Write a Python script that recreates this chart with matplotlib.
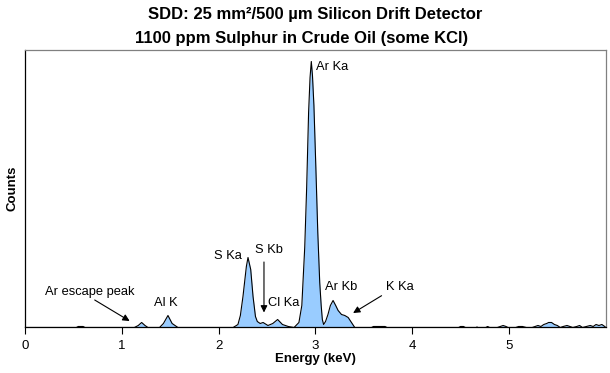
import numpy as np
import matplotlib.pyplot as plt

plt.rcParams['font.family'] = ['Liberation Sans', 'DejaVu Sans']

# spectrum, energy in keV, counts (arbitrary units)
low_kev = [0.00, 0.53, 0.55, 0.58, 0.60, 0.62,
           1.13, 1.17, 1.205, 1.24, 1.27,
           1.39, 1.43, 1.477, 1.52, 1.58, 2.14]
low_counts = [0, 0, 10, 10, 10, 0,
              0, 20, 50, 20, 0,
              0, 40, 120, 40, 0, 0]

sulphur_kev = [2.15, 2.184, 2.20, 2.225, 2.252, 2.287, 2.304, 2.332, 2.356,
               2.381, 2.40, 2.43, 2.46, 2.51, 2.56, 2.61, 2.66, 2.72, 2.78]
sulphur_counts = [0, 20, 30, 120, 310, 610, 700, 580, 310,
                  110, 60, 40, 50, 20, 40, 80, 30, 10, 0]

argon_kev = [2.80, 2.83, 2.86, 2.89, 2.91, 2.93, 2.945, 2.958, 2.97, 2.985,
             3.005, 3.025, 3.045, 3.06, 3.072, 3.085, 3.105, 3.13, 3.155,
             3.183, 3.21, 3.235, 3.27, 3.304, 3.339, 3.373, 3.407]
argon_counts = [20, 50, 220, 800, 1400, 2150, 2500, 2660, 2520, 2220,
                1600, 950, 450, 220, 80, 30, 60, 130, 220,
                270, 220, 170, 130, 120, 100, 50, 0]

high_kev = [3.58, 3.60, 3.66, 3.72, 3.74,
            4.48, 4.50, 4.53, 4.55, 4.66, 4.67, 4.68, 4.76, 4.78, 4.80,
            4.88, 4.91, 4.94, 4.97, 4.99, 5.07, 5.10, 5.14, 5.18, 5.24,
            5.27, 5.30, 5.33, 5.36, 5.39, 5.41, 5.44, 5.47, 5.50, 5.53,
            5.56, 5.60, 5.63, 5.66, 5.70, 5.73, 5.76, 5.80, 5.84, 5.87,
            5.90, 5.93, 5.96, 5.99, 6.00]
high_counts = [0, 10, 10, 10, 0,
               0, 10, 10, 0, 0, 5, 0, 0, 10, 0,
               0, 10, 20, 10, 0, 0, 10, 10, 0, 0,
               10, 20, 10, 30, 40, 50, 50, 30, 20, 0,
               10, 20, 10, 0, 10, 20, 0, 10, 20, 10,
               30, 20, 30, 10, 0]

tick_kev = [0, 1, 2, 3, 4, 5]

# peak labels: text, x, y, alignment
peak_labels = [
    ('Ar Ka', 3.004, 2600, 'left'),
    ('S Ka', 2.24, 715, 'right'),
    ('S Kb', 2.523, 770, 'center'),
    ('Cl Ka', 2.508, 245, 'left'),
    ('Al K', 1.458, 245, 'center'),
    ('Ar escape peak', 0.667, 355, 'center'),
    ('Ar Kb', 3.097, 405, 'left'),
    ('K Ka', 3.728, 405, 'left'),
]
# arrows: (from x, from y) -> (to x, to y)
arrows = [
    ((2.469, 655), (2.469, 150)),
    ((0.72, 275), (1.081, 65)),
    ((3.684, 318), (3.39, 145)),
]

energy = np.array(low_kev + sulphur_kev + argon_kev + high_kev)
counts = np.array(low_counts + sulphur_counts + argon_counts + high_counts)

fig = plt.figure(figsize=(6.10, 3.73), dpi=100)
ax = fig.add_axes([0.041, 0.122, 0.952, 0.744])

ax.fill_between(energy, counts, color='#99ccff', lw=0)
ax.plot(energy, counts, color='black', lw=0.8)

ax.set_xlim(0, 6.0)
ax.set_ylim(0, 2775)
ax.set_xticks(tick_kev)
ax.set_xticklabels([str(t) for t in tick_kev], fontsize=9.5)
ax.set_yticks([])
ax.tick_params(axis='x', direction='out', length=5, width=0.8, pad=4)

for side in ['top', 'right']:
    ax.spines[side].set_color('#808080')
for side in ['left', 'bottom']:
    ax.spines[side].set_color('black')
for s in ax.spines.values():
    s.set_linewidth(0.9)

ax.set_xlabel('Energy (keV)', fontsize=9.5, fontweight='bold', labelpad=1)
ax.set_ylabel('Counts', fontsize=9.5, fontweight='bold', labelpad=5)

for txt, x, y, ha in peak_labels:
    ax.text(x, y, txt, ha=ha, va='center', fontsize=9.3)

for (x0, y0), (x1, y1) in arrows:
    ax.annotate('', xy=(x1, y1), xytext=(x0, y0),
                arrowprops=dict(arrowstyle='-|>', color='black', lw=0.8,
                                mutation_scale=10, shrinkA=0, shrinkB=0))

# title; the first word is white in the original
fig.text(0.243, 0.96, 'Super', color='white', ha='right', va='center',
         fontsize=12, fontweight='bold')
fig.text(0.243, 0.96, 'SDD: 25 mm\u00b2/500 \u00b5m Silicon Drift Detector',
         ha='left', va='center', fontsize=12, fontweight='bold')
fig.text(0.494, 0.898, '1100 ppm Sulphur in Crude Oil (some KCl)',
         ha='center', va='center', fontsize=12, fontweight='bold')

fig.savefig('out.png', dpi=100)
